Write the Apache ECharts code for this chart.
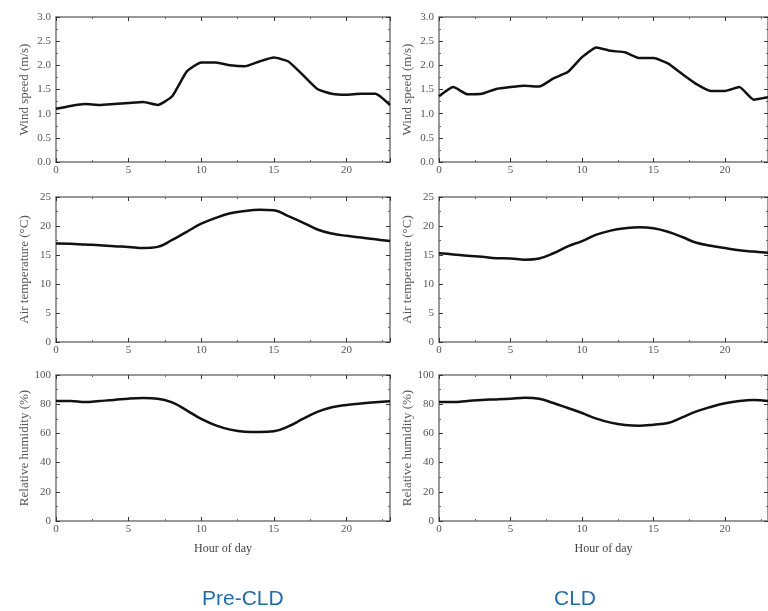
<!DOCTYPE html>
<html>
<head>
<meta charset="utf-8">
<script src="https://cdn.jsdelivr.net/npm/echarts@6/dist/echarts.min.js"></script>
<style>
	html, body { margin: 0; padding: 0; background: #fff; }
	#chart { width: 768px; height: 611px; }
</style>
</head>
<body>
<div id="chart"></div>
<script>
// hours 0..23
let hours = [0, 1, 2, 3, 4, 5, 6, 7, 8, 9, 10, 11, 12, 13, 14, 15, 16, 17, 18, 19, 20, 21, 22, 23];

// Pre-CLD
let windPre = [1.10, 1.16, 1.20, 1.18, 1.20, 1.22, 1.24, 1.18, 1.36, 1.87, 2.06, 2.06, 2.00, 1.98, 2.08, 2.16, 2.08, 1.80, 1.51, 1.41, 1.39, 1.41, 1.41, 1.18];
let tempPre = [17.0, 16.95, 16.8, 16.7, 16.5, 16.4, 16.2, 16.4, 17.6, 19.0, 20.4, 21.4, 22.2, 22.6, 22.8, 22.7, 21.7, 20.6, 19.4, 18.7, 18.3, 18.0, 17.7, 17.4];
let rhPre = [82.2, 82.2, 81.5, 82.2, 82.9, 83.8, 84.2, 83.8, 81.2, 75.8, 69.9, 65.5, 62.6, 61.2, 61.0, 61.4, 64.8, 69.9, 74.7, 77.9, 79.5, 80.4, 81.3, 82.0];

// CLD
let windCld = [1.36, 1.55, 1.40, 1.41, 1.51, 1.55, 1.58, 1.56, 1.73, 1.86, 2.17, 2.37, 2.30, 2.27, 2.15, 2.15, 2.04, 1.82, 1.61, 1.47, 1.47, 1.55, 1.29, 1.34];
let tempCld = [15.3, 15.1, 14.85, 14.7, 14.45, 14.4, 14.2, 14.4, 15.3, 16.5, 17.4, 18.5, 19.2, 19.6, 19.8, 19.6, 19.0, 18.1, 17.1, 16.6, 16.2, 15.8, 15.6, 15.4];
let rhCld = [81.5, 81.5, 82.2, 82.9, 83.3, 83.8, 84.5, 83.8, 80.8, 77.4, 74.0, 70.1, 67.4, 65.8, 65.3, 66.0, 67.1, 71.0, 75.1, 78.1, 80.6, 82.2, 82.9, 82.2];

let yNames = ['Wind speed (m/s)', 'Air temperature (\u00B0C)', 'Relative humidity (%)'];
let yMax = [3, 25, 100];
let yStep = [0.5, 5, 20];
let captions = ['Pre-CLD', 'CLD'];

let chart = echarts.init(document.getElementById('chart'));

let serif = 'Liberation Serif';
let frame = '#777';
let labelColor = '#555';

let panels = [
	[windPre, tempPre, rhPre],
	[windCld, tempCld, rhCld]
];
let colLeft = [56, 439];
let colWidth = [334, 336];
let rowTop = [17, 197, 375];
let rowHeight = [145, 145, 146];

let grid = [], xAxis = [], yAxis = [], series = [];

function pairs(vals) {
	let out = [];
	for (let i = 0; i < hours.length; i++) {
		out.push([hours[i], vals[i]]);
	}
	return out;
}

let g = 0;
for (let c = 0; c < 2; c++) {
	for (let r = 0; r < 3; r++) {
		grid.push({
			left: colLeft[c],
			top: rowTop[r],
			width: colWidth[c],
			height: rowHeight[r]
		});
		let tickStyle = {
			axisLine: { show: true, onZero: false, lineStyle: { color: frame, width: 1.5 } },
			axisTick: { show: true, inside: true, length: 4, lineStyle: { color: '#333' } },
			minorTick: { show: true, splitNumber: 2, length: 2, lineStyle: { color: '#666' } },
			splitLine: { show: false }
		};
		// bottom x axis
		xAxis.push(Object.assign({
			gridIndex: g,
			type: 'value',
			position: 'bottom',
			min: 0,
			max: 23,
			interval: 5,
			name: r == 2 ? 'Hour of day' : '',
			nameLocation: 'middle',
			nameGap: 22,
			nameTextStyle: { fontFamily: serif, fontSize: 12, color: '#444' },
			axisLabel: {
				showMaxLabel: false,
				margin: 3,
				fontFamily: serif,
				fontSize: 11,
				color: labelColor
			}
		}, tickStyle));
		// top x axis (frame only)
		xAxis.push(Object.assign({
			gridIndex: g,
			type: 'value',
			position: 'top',
			min: 0,
			max: 23,
			interval: 5,
			axisLabel: { show: false }
		}, tickStyle));
		// left y axis
		yAxis.push(Object.assign({
			gridIndex: g,
			type: 'value',
			position: 'left',
			min: 0,
			max: yMax[r],
			interval: yStep[r],
			name: yNames[r],
			nameLocation: 'middle',
			nameRotate: 90,
			nameGap: 25,
			nameTextStyle: { fontFamily: serif, fontSize: 13, color: '#555' },
			axisLabel: {
				margin: 5,
				fontFamily: serif,
				fontSize: 11,
				color: labelColor,
				formatter: function(v) {
					return r == 0 ? v.toFixed(1) : String(v);
				}
			}
		}, tickStyle));
		// right y axis (frame only)
		yAxis.push(Object.assign({
			gridIndex: g,
			type: 'value',
			position: 'right',
			min: 0,
			max: yMax[r],
			interval: yStep[r],
			axisLabel: { show: false }
		}, tickStyle));
		series.push({
			type: 'line',
			xAxisIndex: g * 2,
			yAxisIndex: g * 2,
			data: pairs(panels[c][r]),
			showSymbol: false,
			smooth: r == 0 ? 0.15 : 0.4,
			lineStyle: { color: '#111', width: 2.5 },
			silent: true,
			animation: false
		});
		g++;
	}
}

let option = {
	backgroundColor: '#fff',
	animation: false,
	grid: grid,
	xAxis: xAxis,
	yAxis: yAxis,
	series: series,
	graphic: [
		{
			type: 'text',
			left: 245 - 43,
			top: 589,
			style: { text: captions[0], font: '21px "Liberation Sans", Arial, sans-serif', fill: '#1a6dbd' }
		},
		{
			type: 'text',
			left: 575 - 21,
			top: 589,
			style: { text: captions[1], font: '21px "Liberation Sans", Arial, sans-serif', fill: '#1a6dbd' }
		}
	]
};
chart.setOption(option);
</script>
</body>
</html>
